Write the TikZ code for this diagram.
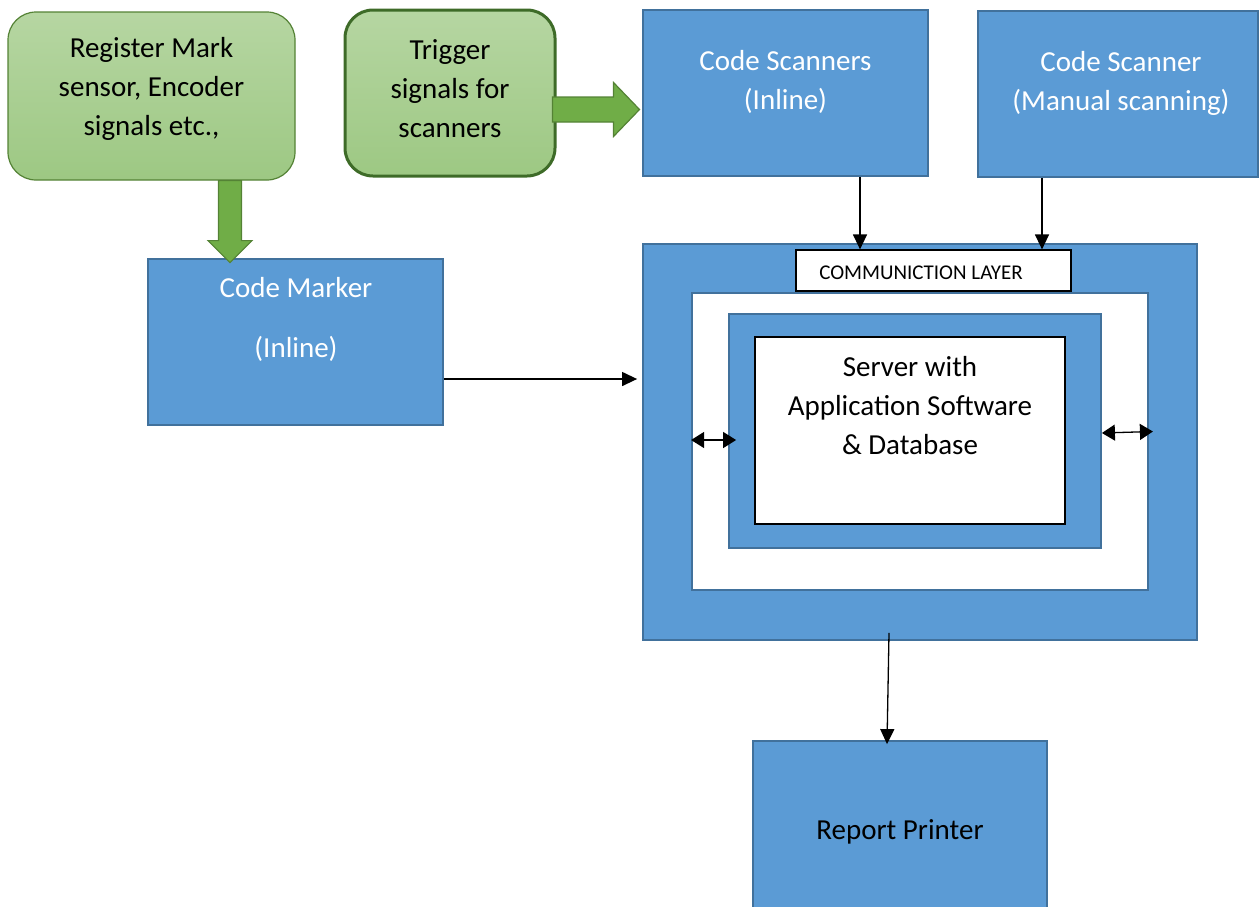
\documentclass[tikz,border=0pt]{standalone}
\usepackage{fontspec}
\setmainfont{Carlito}
\usepackage{xcolor}
\usetikzlibrary{arrows.meta}
\definecolor{boxblue}{HTML}{5B9BD5}
\definecolor{edgeblue}{HTML}{41719C}
\definecolor{arrowgreen}{HTML}{70AD47}
\definecolor{edgegreen}{HTML}{548235}
\definecolor{darkgreen}{HTML}{3E6B28}
\definecolor{lightgreen}{HTML}{B6D6A2}
\definecolor{midgreen}{HTML}{9DC883}
\newcommand{\bigfont}{\fontsize{29}{39}\selectfont}
\tikzstyle{bluebox} = [draw=edgeblue, fill=boxblue, line width=1.8pt,
rectangle, inner sep=0pt]
\tikzstyle{whitebox} = [draw=black, fill=white, line width=1.2pt,
rectangle, inner sep=0pt]
\tikzstyle{greenbox} = [draw=edgegreen, top color=lightgreen, bottom color=midgreen,
line width=1.2pt, rectangle, rounded corners=28pt, inner sep=0pt]
\tikzstyle{boxtext} = [align=center, font=\bigfont, inner sep=0pt]
\tikzstyle{fatarrow} = [draw=edgegreen, fill=arrowgreen, line width=1.2pt]
\tikzstyle{conn} = [line width=1.3pt, -{Triangle[length=15pt,width=14pt]}]
\tikzstyle{dconn} = [line width=1.3pt,
{Triangle[length=13pt,width=16pt]}-{Triangle[length=13pt,width=16pt]}]

\begin{document}
\begin{tikzpicture}[x=1pt, y=-1pt]
        \useasboundingbox (0,0) rectangle (1260,906);
        % signal sources
        \node[greenbox, minimum width=287, minimum height=168] (reg) at (151.5,96) {};
        \node[boxtext] (regtext) at (151.5,89) {Register Mark\\sensor, Encoder\\signals etc.,};
        \node[greenbox, draw=darkgreen, line width=3pt, minimum width=210, minimum height=166] (trig) at (450,93) {};
        \node[boxtext] (trigtext) at (450,89) {Trigger\\signals for\\scanners};
        % scanners and marker
        \node[bluebox, minimum width=285, minimum height=166] (scan) at (785.5,93) {};
        \node[boxtext, text=white] (scantext) at (785.5,82) {Code Scanners\\(Inline)};
        \node[bluebox, minimum width=280, minimum height=166] (manual) at (1118,94) {};
        \node[boxtext, text=white] (manualtext) at (1121,83) {Code Scanner\\(Manual scanning)};
        \node[bluebox, minimum width=295, minimum height=166] (marker) at (295.5,342) {};
        \node[boxtext, text=white] (markertext) at (296,319.5) {Code Marker\\[21pt](Inline)};
        % server block
        \node[bluebox, minimum width=554, minimum height=396] (outer) at (920,442) {};
        \node[whitebox, minimum width=275, minimum height=41] (comm) at (933.5,270.5) {};
        \node[inner sep=0pt, font=\fontsize{21}{25}\selectfont] (commtext) at (921,273) {COMMUNICTION LAYER};
        \node[bluebox, fill=white, minimum width=456, minimum height=297] (inwhite) at (920,441.5) {};
        \node[bluebox, minimum width=372, minimum height=234] (inblue) at (915,431) {};
        \node[whitebox, minimum width=310, minimum height=187] (server) at (910,430.5) {};
        \node[boxtext] (servertext) at (910,406) {Server with\\Application Software\\\& Database};
        % printer
        \node[bluebox, minimum width=294, minimum height=179] (printer) at (900,830.5) {};
        \node[boxtext] (printertext) at (900,832) {Report Printer};
        % block arrows
        \draw[fatarrow] ([xshift=67]reg.south) -- ++(23,0) -- ++(0,60) -- ++(10.5,0)
            -- ++(-22,22) -- ++(-22,-22) -- ++(10.5,0) -- cycle;
        \draw[fatarrow] ([xshift=-4,yshift=-4]trig.east) -- ++(61,0) -- ++(0,-14.5)
            -- ++(26,27) -- ++(-26,27) -- ++(0,-14.5) -- ++(-61,0) -- cycle;
        % connectors
        \coordinate (scanout) at ([xshift=74.5]scan.south);
        \coordinate (manout) at ([xshift=-76]manual.south);
        \coordinate (markout) at ([yshift=-37]marker.east);
        \coordinate (outerout) at ([xshift=-31,yshift=8]outer.south);
        \draw[conn] (scanout) -- (scanout |- comm.north);
        \draw[conn] (manout) -- (manout |- comm.north);
        \draw[conn, shorten >=5pt] (markout) -- (markout -| outer.west);
        \draw[dconn] ([yshift=1.5]inwhite.west) -- ([xshift=8,yshift=-9]inblue.west);
        \draw[dconn] ([yshift=-2]inblue.east) -- ([xshift=4,yshift=10]inwhite.east);
        \draw[conn] (outerout) -- ([xshift=-13,yshift=-4]printer.north);
    \end{tikzpicture}
\end{document}
